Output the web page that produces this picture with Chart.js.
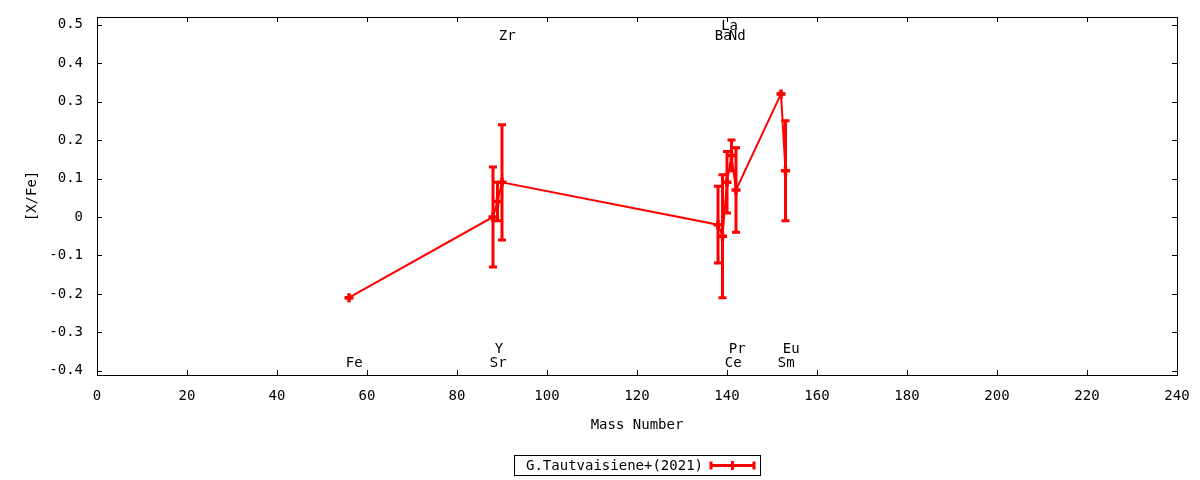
<!DOCTYPE html>
<html>
<head>
<meta charset="utf-8">
<script src="https://cdn.jsdelivr.net/npm/chart.js@4"></script>
<style>
html,body{margin:0;padding:0;background:#fff;}
#wrap{width:1200px;height:480px;position:relative;}
</style>
</head>
<body>
<div id="wrap"><canvas id="c"></canvas></div>
<script>
// ---- data ----
const elements     = ['Fe', 'Sr', 'Y', 'Zr', 'Ba', 'La', 'Ce', 'Pr', 'Nd', 'Sm', 'Eu'];
const massNumber   = [56, 88, 89, 90, 138, 139, 140, 141, 142, 152, 153];
const abundance    = [-0.21, 0.00, 0.04, 0.09, -0.02, -0.05, 0.09, 0.16, 0.07, 0.32, 0.12];
const abundanceErr = [0.00, 0.13, 0.05, 0.15, 0.10, 0.16, 0.08, 0.04, 0.11, 0.00, 0.13];
// element name annotations (data coordinates)
const labelMass    = [55.3, 87.3, 88.4, 89.3, 137.3, 138.7, 139.5, 140.4, 140.4, 151.3, 152.4];
const labelLevel   = [-0.38, -0.38, -0.345, 0.47, 0.47, 0.495, -0.38, -0.345, 0.47, -0.38, -0.345];
const xTicks = [0, 20, 40, 60, 80, 100, 120, 140, 160, 180, 200, 220, 240];
const yTicks = [-0.4, -0.3, -0.2, -0.1, 0, 0.1, 0.2, 0.3, 0.4, 0.5];
const xRange = [0, 240];
const yRange = [-0.411, 0.52];
const seriesName = 'G.Tautvaisiene+(2021)';
const xTitle = 'Mass Number';
const yTitle = '[X/Fe]';

// ---- style ----
const FONT = "'DejaVu Sans Mono', 'Liberation Mono', monospace";
const FSIZE = 14;
const RED = '#ff0000';

function fmtY(v) {
  if (Math.abs(v) < 1e-9) return '0';
  return (Math.round(v * 10) / 10).toString();
}

function drawErrorBar(ctx, px, pyTop, pyBot, cap) {
  ctx.beginPath();
  ctx.moveTo(px, pyTop); ctx.lineTo(px, pyBot);
  ctx.moveTo(px - cap, pyTop); ctx.lineTo(px + cap, pyTop);
  ctx.moveTo(px - cap, pyBot); ctx.lineTo(px + cap, pyBot);
  ctx.stroke();
}

const gnuplotPlugin = {
  id: 'gnuplotLook',
  afterDatasetsDraw(chart) {
    const {ctx, scales: {x, y}} = chart;
    ctx.save();
    ctx.strokeStyle = RED;
    ctx.lineWidth = 3;
    ctx.lineCap = 'butt';
    for (let i = 0; i < massNumber.length; i++) {
      const px = x.getPixelForValue(massNumber[i]);
      const t = y.getPixelForValue(abundance[i] + abundanceErr[i]);
      const b = y.getPixelForValue(abundance[i] - abundanceErr[i]);
      drawErrorBar(ctx, px, t, b, 4);
    }
    ctx.restore();
  },
  afterDraw(chart) {
    const {ctx, chartArea: a, scales: {x, y}} = chart;
    ctx.save();
    // frame
    ctx.strokeStyle = '#000';
    ctx.lineWidth = 1;
    ctx.strokeRect(Math.round(a.left) + 0.5, Math.round(a.top) + 0.5,
                   Math.round(a.right - a.left), Math.round(a.bottom - a.top));
    // inward ticks (mirrored)
    ctx.beginPath();
    xTicks.forEach(v => {
      const px = Math.round(x.getPixelForValue(v)) + 0.5;
      ctx.moveTo(px, a.bottom); ctx.lineTo(px, a.bottom - 5);
      ctx.moveTo(px, a.top); ctx.lineTo(px, a.top + 5);
    });
    yTicks.forEach(v => {
      const py = Math.round(y.getPixelForValue(v)) + 0.5;
      ctx.moveTo(a.left, py); ctx.lineTo(a.left + 5, py);
      ctx.moveTo(a.right, py); ctx.lineTo(a.right - 5, py);
    });
    ctx.stroke();

    // element labels
    ctx.fillStyle = '#000';
    ctx.font = FSIZE + 'px ' + FONT;
    ctx.textAlign = 'left';
    ctx.textBaseline = 'middle';
    elements.forEach((el, i) => {
      ctx.fillText(el, x.getPixelForValue(labelMass[i]), y.getPixelForValue(labelLevel[i]));
    });

    // legend (gnuplot style box below the plot)
    const cx = (a.left + a.right) / 2;
    const bw = 246, bh = 20;
    const bx = Math.round(cx - bw / 2), by = Math.round(a.bottom + 80);
    ctx.strokeStyle = '#000';
    ctx.lineWidth = 1;
    ctx.strokeRect(bx + 0.5, by + 0.5, bw, bh);
    ctx.textAlign = 'right';
    ctx.fillText(seriesName, bx + 189, by + bh / 2 + 1);
    const sx0 = bx + 197, sx1 = bx + 240, sy = by + bh / 2 + 0.5;
    ctx.strokeStyle = RED;
    ctx.lineWidth = 3;
    ctx.beginPath();
    ctx.moveTo(sx0, sy); ctx.lineTo(sx1, sy);
    ctx.moveTo(sx0, sy - 4); ctx.lineTo(sx0, sy + 4);
    ctx.moveTo(sx1, sy - 4); ctx.lineTo(sx1, sy + 4);
    const mx = (sx0 + sx1) / 2;
    ctx.moveTo(mx, sy - 4.5); ctx.lineTo(mx, sy + 4.5);
    ctx.stroke();
    ctx.restore();
  }
};

new Chart(document.getElementById('c'), {
  type: 'scatter',
  data: {
    datasets: [{
      label: seriesName,
      data: massNumber.map((m, i) => ({x: m, y: abundance[i]})),
      showLine: true,
      borderColor: RED,
      backgroundColor: RED,
      borderWidth: 2,
      tension: 0,
      pointStyle: 'cross',
      pointRadius: 4.5,
      pointHoverRadius: 4.5,
      pointBorderWidth: 3.5,
      pointBorderColor: RED,
      clip: false
    }]
  },
  options: {
    responsive: true,
    maintainAspectRatio: false,
    animation: false,
    devicePixelRatio: 1,
    events: [],
    layout: { padding: { left: 0, right: 23, top: 17, bottom: 45 } },
    plugins: {
      legend: { display: false },
      tooltip: { enabled: false }
    },
    scales: {
      x: {
        type: 'linear',
        min: xRange[0], max: xRange[1],
        grid: { display: false, drawTicks: false },
        border: { display: false },
        afterBuildTicks: s => { s.ticks = xTicks.map(v => ({value: v})); },
        afterFit: s => { s.height = 60; s.paddingLeft = 0; s.paddingRight = 0; },
        ticks: {
          color: '#000',
          font: { family: FONT, size: FSIZE },
          padding: 13,
          maxRotation: 0,
          autoSkip: false,
          callback: v => String(v)
        },
        title: {
          display: true,
          text: xTitle,
          color: '#000',
          font: { family: FONT, size: FSIZE },
          padding: { top: 0, bottom: 1 }
        }
      },
      y: {
        type: 'linear',
        min: yRange[0], max: yRange[1],
        grid: { display: false, drawTicks: false },
        border: { display: false },
        afterBuildTicks: s => { s.ticks = yTicks.map(v => ({value: v})); },
        afterFit: s => { s.width = 97; s.paddingTop = 0; s.paddingBottom = 0; },
        ticks: {
          color: '#000',
          font: { family: FONT, size: FSIZE },
          padding: 14,
          autoSkip: false,
          callback: v => fmtY(v)
        },
        title: {
          display: true,
          text: yTitle,
          color: '#000',
          font: { family: FONT, size: FSIZE },
          padding: { top: 24, bottom: 0 }
        }
      }
    }
  },
  plugins: [gnuplotPlugin]
});
</script>
</body>
</html>
